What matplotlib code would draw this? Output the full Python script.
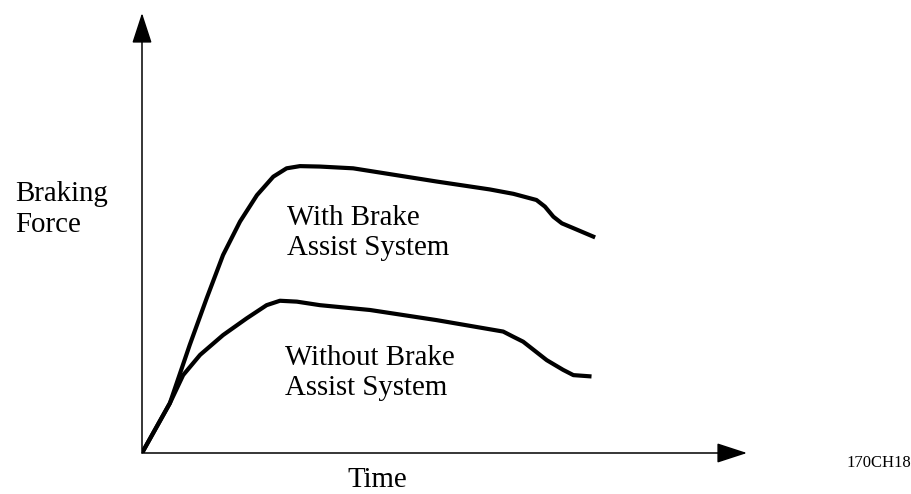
import matplotlib
matplotlib.use('Agg')
import matplotlib.pyplot as plt

plt.rcParams['font.family'] = ['Liberation Serif', 'DejaVu Serif']

# curve points (time, braking force), arbitrary units 0..10
with_t = [0, 0.46, 0.79, 1.07, 1.34, 1.62, 1.90, 2.17, 2.39, 2.61, 2.94, 3.49,
          4.87, 5.75, 6.14, 6.52, 6.66, 6.80, 6.94, 7.13, 7.49]
with_f = [0, 1.13, 2.46, 3.52, 4.50, 5.26, 5.86, 6.28, 6.47, 6.52, 6.51, 6.47,
          6.17, 5.99, 5.89, 5.75, 5.60, 5.37, 5.22, 5.11, 4.90]

without_t = [0, 0.46, 0.68, 0.96, 1.34, 1.73, 2.06, 2.28, 2.56, 2.94, 3.77,
             4.87, 5.97, 6.14, 6.30, 6.69, 6.96, 7.13, 7.43]
without_f = [0, 1.13, 1.77, 2.23, 2.68, 3.06, 3.36, 3.46, 3.44, 3.36, 3.25,
             3.02, 2.76, 2.64, 2.53, 2.11, 1.89, 1.77, 1.74]

x_label = 'Time'
y_label = 'Braking\nForce'
with_label = 'With Brake\nAssist System'
without_label = 'Without Brake\nAssist System'
code_label = '170CH18'

fig = plt.figure(figsize=(9.11, 4.94), dpi=100)
ax = fig.add_axes([142 / 911, 41 / 494, 605 / 911, 440 / 494])
ax.set_xlim(0, 10)
ax.set_ylim(0, 10)
ax.axis('off')

for t, f in [(with_t, with_f), (without_t, without_f)]:
    ax.plot(t, f, color='black', lw=3, solid_joinstyle='round', solid_capstyle='butt')

# axis arrows
arrow = dict(arrowstyle='-|>,head_length=1.9,head_width=0.62', mutation_scale=10,
             color='black', lw=1.1, shrinkA=0, shrinkB=0)
ax.annotate('', xy=(10, 0), xytext=(0, 0), arrowprops=arrow, annotation_clip=False)
ax.annotate('', xy=(0, 10), xytext=(0, 0), arrowprops=arrow, annotation_clip=False)

# multi-line text: y is the baseline of the last line
fs = 20.8
ls = 1.22
ax.text(2.39, 4.50, with_label, fontsize=fs, va='baseline', ha='left', linespacing=ls)
ax.text(2.36, 1.32, without_label, fontsize=fs, va='baseline', ha='left', linespacing=ls)
ax.text(-2.10, 5.03, y_label, fontsize=fs, va='baseline', ha='left', linespacing=ls,
        clip_on=False)
ax.text(3.40, -0.77, x_label, fontsize=fs, va='baseline', ha='left', clip_on=False)
ax.text(11.65, -0.32, code_label, fontsize=12, va='baseline', ha='left', clip_on=False)

fig.savefig('out.png', dpi=100)
